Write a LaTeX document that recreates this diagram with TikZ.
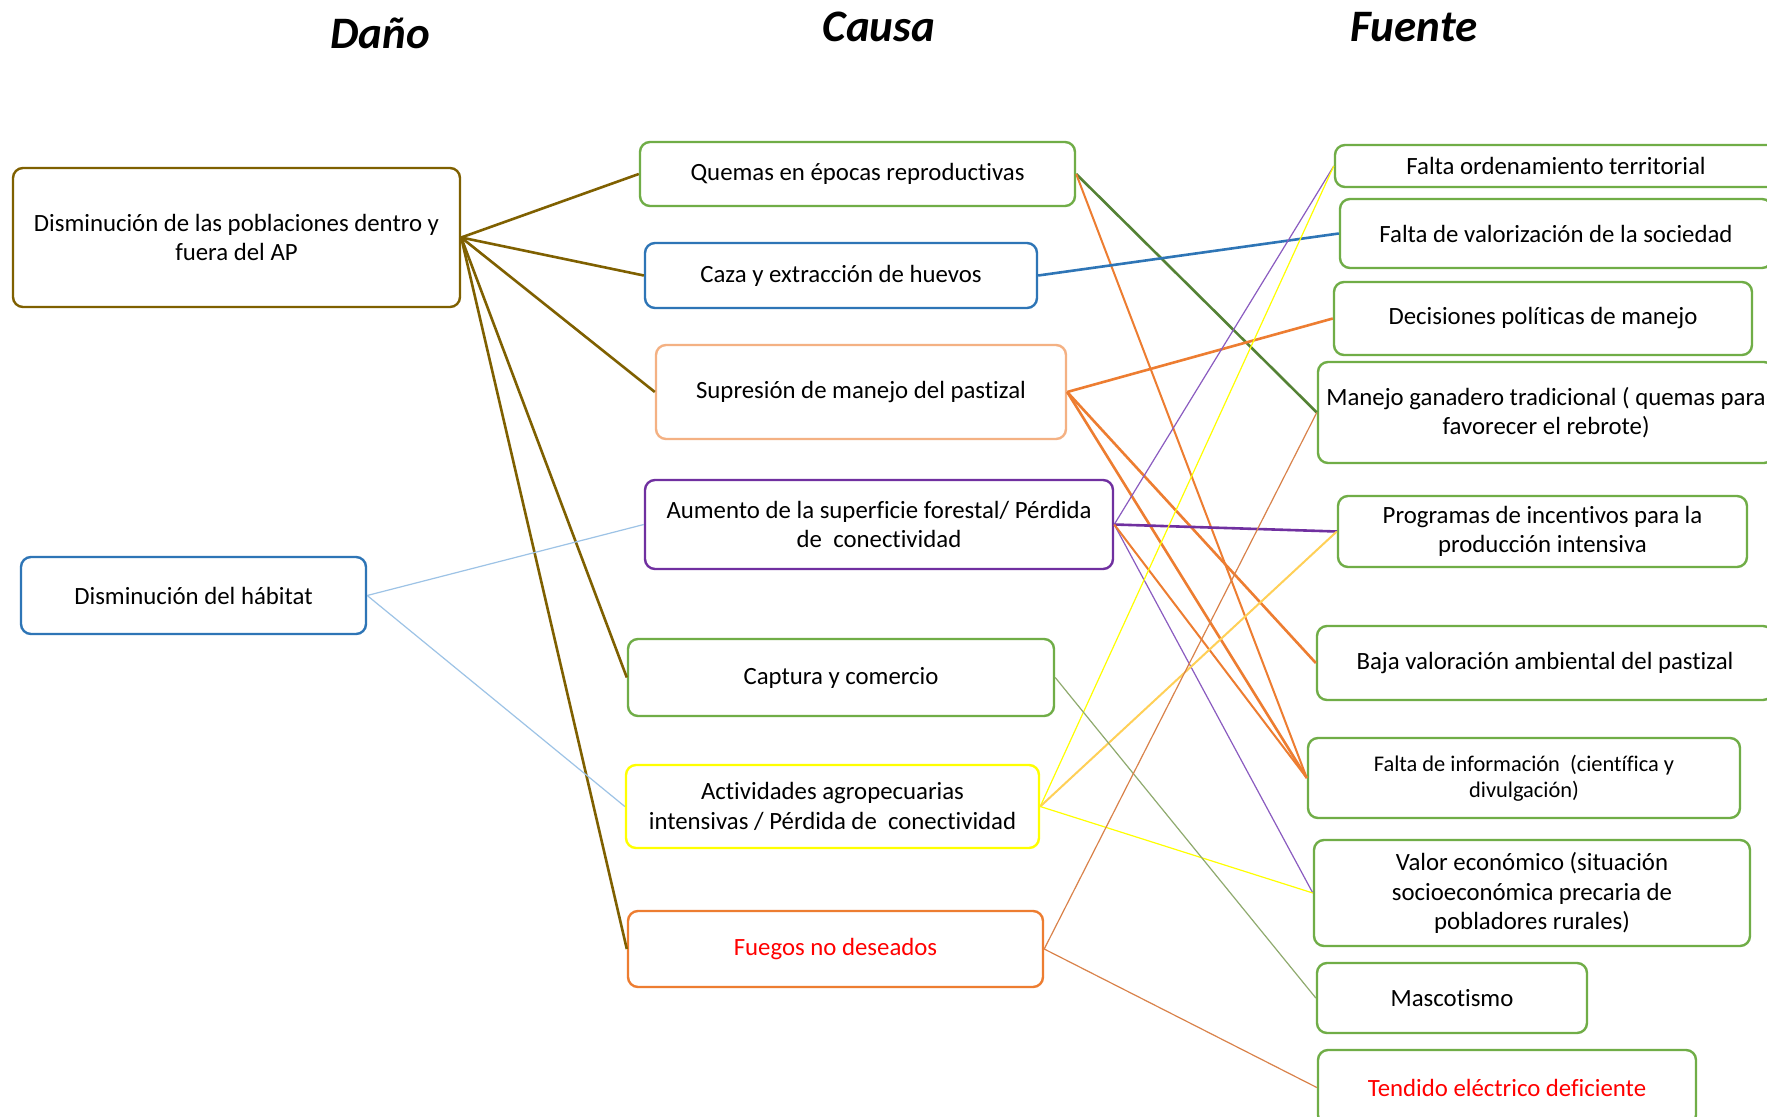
\documentclass[tikz,border=0pt]{standalone}
\usepackage{fontspec}
\setmainfont{Carlito}[Ligatures=NoCommon]
\definecolor{cbrown}{HTML}{7F6000}
\definecolor{cblue}{HTML}{2E75B6}
\definecolor{cgreen}{HTML}{70AD47}
\definecolor{clorange}{HTML}{F4B183}
\definecolor{cpurple}{HTML}{7030A0}
\definecolor{cyellow}{HTML}{FFFF00}
\definecolor{corange}{HTML}{ED7D31}
\definecolor{cdgreen}{HTML}{548235}
\definecolor{clblue}{HTML}{9DC3E6}
\definecolor{cgold}{HTML}{FFD057}
\definecolor{colive}{HTML}{8FAA6E}
\definecolor{cfire}{HTML}{D9824A}
\definecolor{cpurplet}{HTML}{8A5BC0}
\definecolor{cred}{HTML}{FF0000}
\tikzset{
  box/.style={draw, rounded corners=5pt, line width=1.2pt, fill=white, align=center,
    inner sep=0pt, font=\fontsize{12.4}{14.8}\selectfont, text=black},
  sz/.style 2 args={minimum width=#1*0.5pt, minimum height=#2*0.5pt},
  ttl/.style={font=\fontsize{22.5}{27}\selectfont\bfseries\itshape, inner sep=0pt},
  thick line/.style={line width=1.3pt},
  mid line/.style={line width=1pt},
  thin line/.style={line width=0.6pt},
}
\begin{document}
\begin{tikzpicture}[x=0.5pt,y=-0.5pt]
\useasboundingbox (0,0) rectangle (1767,1117);
\clip (0,0) rectangle (1767,1117);
\fill[white] (0,0) rectangle (1767,1117);

% titles
\node[ttl] (tdano) at (380,33) {Daño};
\node[ttl] (tcausa) at (879,27) {Causa};
\node[ttl] (tfuente) at (1414,27) {Fuente};

% left
\node[box, draw=cbrown, sz={447}{139}] (d1) at (236.5,237.5) {Disminución de las poblaciones dentro y\\fuera del AP};
\node[box, draw=cblue, sz={345}{77}] (d2) at (193.5,595.5) {Disminución del hábitat};

% middle
\node[box, draw=cgreen, sz={435}{64}] (q) at (857.5,174) {Quemas en épocas reproductivas};
\node[box, draw=cblue, sz={392}{65}] (caza) at (841,275.5) {Caza y extracción de huevos};
\node[box, draw=clorange, sz={410}{94}] (sup) at (861,392) {Supresión de manejo del pastizal};
\node[box, draw=cpurple, sz={468}{89}] (aum) at (879,524.5) {Aumento de la superficie forestal/ Pérdida\\de~ conectividad};
\node[box, draw=cgreen, sz={426}{77}] (cap) at (841,677.5) {Captura y comercio};
\node[box, draw=cyellow, sz={413}{83}] (act) at (832.5,806.5) {Actividades agropecuarias\\intensivas / Pérdida de~ conectividad};
\node[box, draw=corange, sz={415}{76}, text=cred] (fue) at (835.5,949) {Fuegos no deseados};

% right
\node[box, draw=cgreen, sz={442}{42}] (f1) at (1556,166) {Falta ordenamiento territorial};
\node[box, draw=cgreen, sz={432}{69}] (f2) at (1556,233.5) {Falta de valorización de la sociedad};
\node[box, draw=cgreen, sz={418}{73}] (f3) at (1543,318.5) {Decisiones políticas de manejo};
\node[box, draw=cgreen, sz={456}{101}] (f4) at (1546,412.5) {Manejo ganadero tradicional ( quemas para\\favorecer el rebrote)};
\node[box, draw=cgreen, sz={409}{71}] (f5) at (1542.5,531.5) {Programas de incentivos para la\\producción intensiva};
\node[box, draw=cgreen, sz={456}{74}] (f6) at (1545,663) {Baja valoración ambiental del pastizal};
\node[box, draw=cgreen, sz={432}{80}, font=\fontsize{11.2}{13.2}\selectfont] (f7) at (1524,778) {Falta de información~ (científica y\\divulgación)};
\node[box, draw=cgreen, sz={436}{106}] (f8) at (1532,893) {Valor económico (situación\\socioeconómica precaria de\\pobladores rurales)};
\node[box, draw=cgreen, sz={270}{70}] (f9) at (1452,998) {Mascotismo};
\node[box, draw=cgreen, sz={378}{75}, text=cred] (f10) at (1507,1087.5) {Tendido eléctrico deficiente};

% connectors from Daño
\draw[thick line, cbrown] (d1.east) -- (q.west);
\draw[thick line, cbrown] (d1.east) -- (caza.west);
\draw[thick line, cbrown] (d1.east) -- (sup.west);
\draw[thick line, cbrown] (d1.east) -- (cap.west);
\draw[thick line, cbrown] (d1.east) -- (fue.west);
\draw[thin line, clblue] (d2.east) -- (aum.west);
\draw[thin line, clblue] (d2.east) -- (act.west);

% connectors Causa -> Fuente
\draw[thick line, cdgreen] (q.east) -- (f4.west);
\draw[mid line, corange] (q.east) -- (f7.west);
\draw[thick line, cblue] (caza.east) -- (f2.west);
\draw[thick line, corange] (sup.east) -- (f3.west);
\draw[thick line, corange] (sup.east) -- (f6.west);
\draw[thick line, corange] (sup.east) -- (f7.west);
\draw[thick line, cpurple] (aum.east) -- (f5.west);
\draw[thin line, cpurplet] (aum.east) -- (f1.west);
\draw[thin line, cpurplet] (aum.east) -- (f8.west);
\draw[mid line, corange] (aum.east) -- (f7.west);
\draw[thin line, cyellow] (act.east) -- (f1.west);
\draw[mid line, cgold] (act.east) -- (f5.west);
\draw[thin line, cyellow] (act.east) -- (f8.west);
\draw[thin line, colive] (cap.east) -- (f9.west);
\draw[thin line, cfire] (fue.east) -- (f4.west);
\draw[thin line, cfire] (fue.east) -- (f10.west);
\end{tikzpicture}
\end{document}
